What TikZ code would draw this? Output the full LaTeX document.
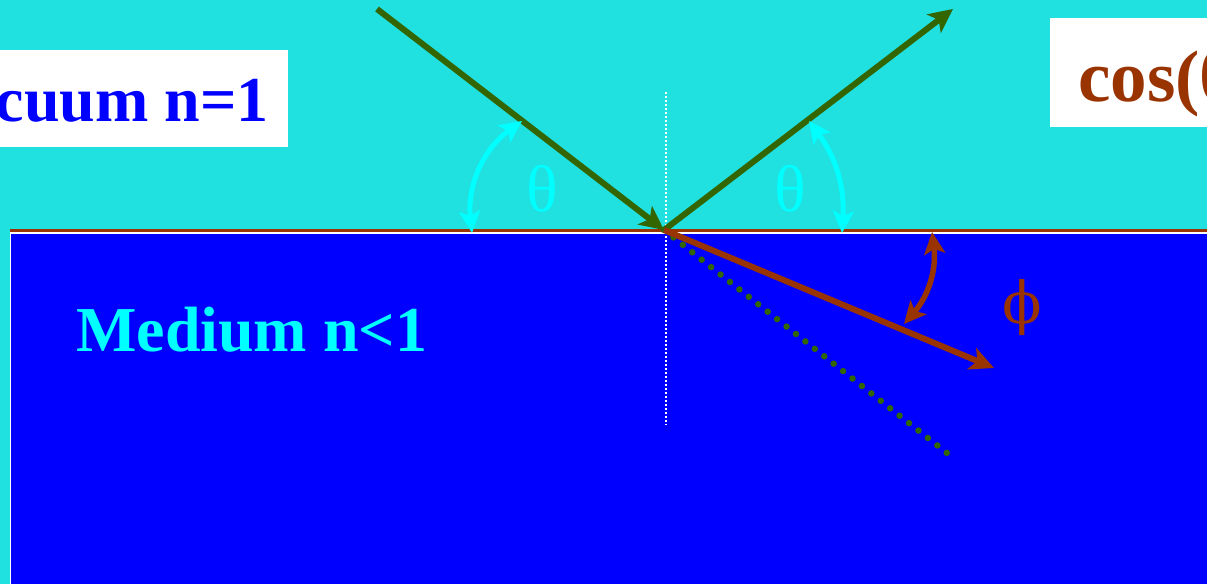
\documentclass[tikz,border=0pt]{standalone}
\usepackage{fontspec}
\setmainfont{Liberation Serif}
\newfontfamily\phifont{DejaVu Serif}
\usetikzlibrary{arrows.meta}
\definecolor{bgcyan}{RGB}{32,224,224}
\definecolor{medblue}{RGB}{0,0,255}
\definecolor{raygreen}{RGB}{51,102,0}
\definecolor{rustbrown}{RGB}{153,51,0}
\definecolor{acyan}{RGB}{0,255,255}
\begin{document}
\begin{tikzpicture}[x=1bp,y=1bp,
  ray/.style={line width=6bp,-{Stealth[length=24bp,width=23bp,inset=6bp]}},
  greenray/.style={ray,draw=raygreen},
  brownray/.style={ray,draw=rustbrown},
  dotline/.style={draw=raygreen,line width=6.5bp,line cap=round,dash pattern=on 0bp off 12bp},
  normalline/.style={draw=white,line width=1.5bp,dash pattern=on 2bp off 2bp},
  cyanarc/.style={draw=acyan,line width=5bp,{Stealth[length=22bp,width=21bp,inset=5bp]}-{Stealth[length=22bp,width=21bp,inset=5bp]}},
  brownarc/.style={draw=rustbrown,line width=5.5bp,{Stealth[length=22bp,width=21bp,inset=5bp]}-{Stealth[length=22bp,width=21bp,inset=5bp]}},
  bigtext/.style={inner sep=0pt,font=\fontsize{64bp}{70bp}\selectfont\bfseries},
  greek/.style={inner sep=0pt,font=\fontsize{66bp}{70bp}\selectfont}
]
\clip (0,0) rectangle (1207,584);
% background
\fill[bgcyan] (0,0) rectangle (1207,584);
\fill[white] (9.5,0) rectangle (1207,352);
\fill[medblue] (11,0) rectangle (1207,349.5);
\fill[rustbrown] (10,352) rectangle (1207,354.7);
% geometry
\coordinate (O) at (664,354);
\coordinate (A) at (377,575);
\coordinate (B) at (953,575);
\coordinate (C) at (994,216);
\coordinate (D) at (952,127);
\coordinate (V1) at (666,492);
\coordinate (V2) at (666,159);
% normal
\draw[normalline] (V1) -- (V2);
% continuation of incident ray
\draw[dotline] (O) -- (D);
% rays
\draw[greenray] (A) -- (O);
\draw[greenray] (O) -- (B);
\draw[brownray] (O) -- (C);
% angle arcs
\coordinate (t1a) at (472,351);
\coordinate (t1b) at (522,463);
\coordinate (t2a) at (842,351);
\coordinate (t2b) at (809,463);
\coordinate (p1) at (932,352);
\coordinate (p2) at (904,260);
\draw[cyanarc] (t1a) to[bend left=30] (t1b);
\draw[cyanarc] (t2a) to[bend right=20] (t2b);
\draw[brownarc] (p1) to[bend left=24] (p2);
% greek labels
\node[greek,text=acyan] (th1) at (542,395.5) {θ};
\node[greek,text=acyan] (th2) at (790,395.5) {θ};
\node[inner sep=0pt,text=rustbrown,font=\phifont\fontsize{58bp}{64bp}\selectfont] (ph) at (1022,276) {ϕ};
% labels
\fill[white] (0,437) rectangle (288,534);
\node[bigtext,text=medblue,anchor=base east] (vac) at (269,462) {Vacuum n=1};
\fill[white] (1050,456.7) rectangle (1215,566);
\node[bigtext,text=rustbrown,anchor=base west,font=\fontsize{73bp}{78bp}\selectfont\bfseries] (cos) at (1078,482) {cos(θ)};
\node[bigtext,text=acyan,anchor=base west] (med) at (76,232) {Medium n<1};
\end{tikzpicture}
\end{document}
